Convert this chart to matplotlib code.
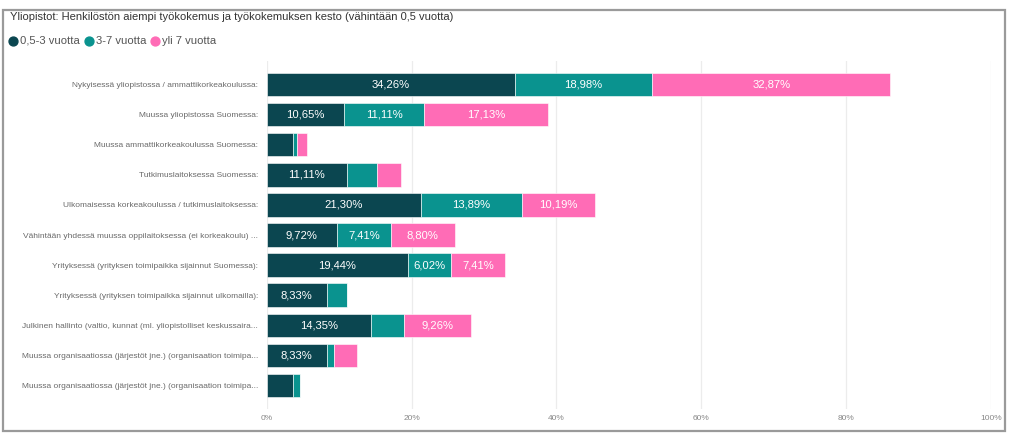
import matplotlib
matplotlib.use("Agg")
import matplotlib.pyplot as plt
from matplotlib.patches import Rectangle
from matplotlib.lines import Line2D
import numpy as np

plt.rcParams['font.family'] = ['Liberation Sans', 'DejaVu Sans']

title = "Yliopistot: Henkilöstön aiempi työkokemus ja työkokemuksen kesto (vähintään 0,5 vuotta)"
categories = [
    "Nykyisessä yliopistossa / ammattikorkeakoulussa:",
    "Muussa yliopistossa Suomessa:",
    "Muussa ammattikorkeakoulussa Suomessa:",
    "Tutkimuslaitoksessa Suomessa:",
    "Ulkomaisessa korkeakoulussa / tutkimuslaitoksessa:",
    "Vähintään yhdessä muussa oppilaitoksessa (ei korkeakoulu) ...",
    "Yrityksessä (yrityksen toimipaikka sijainnut Suomessa):",
    "Yrityksessä (yrityksen toimipaikka sijainnut ulkomailla):",
    "Julkinen hallinto (valtio, kunnat (ml. yliopistolliset keskussaira...",
    "Muussa organisaatiossa (järjestöt jne.) (organisaation toimipa...",
    "Muussa organisaatiossa (järjestöt jne.) (organisaation toimipa...",
]
series_names = ["0,5-3 vuotta", "3-7 vuotta", "yli 7 vuotta"]
v_short = [34.26, 10.65, 3.70, 11.11, 21.30, 9.72, 19.44, 8.33, 14.35, 8.33, 3.70]
v_mid = [18.98, 11.11, 0.46, 4.17, 13.89, 7.41, 6.02, 2.78, 4.63, 0.93, 0.93]
v_long = [32.87, 17.13, 1.39, 3.24, 10.19, 8.80, 7.41, 0.0, 9.26, 3.24, 0.0]
x_ticks = [0, 20, 40, 60, 80, 100]
x_ticklabels = ["0%", "20%", "40%", "60%", "80%", "100%"]

colors = ["#0b4650", "#0a938f", "#ff6cb6"]

W, H = 1022, 438
fig = plt.figure(figsize=(W / 100, H / 100), dpi=100)

def fx(x):
    return x / W

def fy(y):
    return 1 - y / H

# outer frame
fig.patches.append(Rectangle((fx(3), fy(431)), fx(1005) - fx(3), fy(9.5) - fy(431),
                             transform=fig.transFigure, fill=False,
                             edgecolor="#9a9a9a", linewidth=1.6))

fig.text(fx(10), fy(16.8), title, fontsize=8.05, color="#333333", va="center", ha="left")

# legend
lx = [13, 89, 155]
for x0, name, c in zip(lx, series_names, colors):
    fig.add_artist(Line2D([fx(x0)], [fy(40.7)], transform=fig.transFigure,
                          marker="o", markersize=6.4, color=c, linestyle="none"))
    fig.text(fx(x0 + 6.5), fy(40.7), name, fontsize=8.1, color="#555555",
             va="center", ha="left")

ax = fig.add_axes([fx(266.7), fy(409), fx(991) - fx(266.7), fy(61) - fy(409)])
y = np.arange(len(categories))
series = [v_short, v_mid, v_long]
left = np.zeros(len(categories))
for vals, c in zip(series, colors):
    vals = np.array(vals)
    ax.barh(y, vals, left=left, height=0.78, color=c, edgecolor="white",
            linewidth=0.4, zorder=3)
    for yi, (l, v) in enumerate(zip(left, vals)):
        if v >= 5:
            ax.text(l + v / 2, yi, f"{v:.2f}%".replace(".", ","), ha="center",
                    va="center", color="white", fontsize=8.1, zorder=4)
    left = left + vals

ax.set_xlim(0, 100)
ax.set_ylim(len(categories) - 1 + 0.78, -0.78)
ax.set_yticks(y)
ax.set_yticklabels(categories, fontsize=6.0, color="#6a6a6a")
ax.set_xticks(x_ticks)
ax.set_xticklabels(x_ticklabels, fontsize=6.0, color="#888888")
ax.tick_params(axis="y", length=0, pad=6.3)
ax.tick_params(axis="x", length=0, pad=4.3)
ax.grid(axis="x", color="#ececec", linewidth=0.9, zorder=0)
for s in ax.spines.values():
    s.set_visible(False)

fig.savefig("out.png", dpi=100)
